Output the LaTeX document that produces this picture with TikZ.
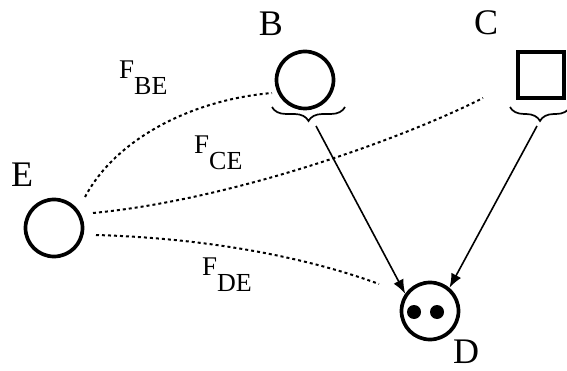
\documentclass[tikz,border=0pt]{standalone}
\usepackage{fontspec}
\setmainfont{Liberation Serif}
\usetikzlibrary{decorations.pathreplacing,arrows.meta}
\newcommand{\Flab}[1]{F\raisebox{-16pt}{\fontsize{26}{28}\selectfont #1}}
\begin{document}
\begin{tikzpicture}[x=1pt,y=-1pt,
  circ/.style={circle, draw, line width=3.7pt, minimum size=57pt, inner sep=0pt},
  sq/.style={rectangle, draw, line width=4.8pt, minimum size=46pt, inner sep=0pt},
  lab/.style={font=\fontsize{36}{40}\selectfont, inner sep=0pt},
  flab/.style={font=\fontsize{27}{30}\selectfont, inner sep=0pt, anchor=base west},
  blob/.style={circle, fill, minimum size=14pt, inner sep=0pt},
  link/.style={line width=2pt, dash pattern=on 3pt off 3pt},
  arr/.style={line width=1.6pt, -{Latex[length=14pt,width=11pt]}},
  brc/.style={decorate, decoration={brace, mirror, amplitude=14pt}, line width=1.7pt}]
\useasboundingbox (0,0) rectangle (567,371);
% nodes
\node[circ] (B) at (305,80) {};
\node[sq] (C) at (541,75) {};
\node[circ] (D) at (430,311) {};
\node[circ] (E) at (54,228) {};
\node[blob] (d1) at (414,312) {};
\node[blob] (d2) at (437,312) {};
% labels
\node[lab] (lB) at (271,24) {B};
\node[lab] (lC) at (486,23) {C};
\node[lab] (lD) at (466,352) {D};
\node[lab] (lE) at (22,175) {E};
\node[flab] (fBE) at (119,79) {\Flab{BE}};
\node[flab] (fCE) at (194,154) {\Flab{CE}};
\node[flab] (fDE) at (202,275) {\Flab{DE}};
% braces
\coordinate (b1) at (272,107);
\coordinate (b2) at (345,107);
\coordinate (c1) at (510,107);
\coordinate (c2) at (570,107);
\draw[brc] (b1) -- (b2);
\draw[brc] (c1) -- (c2);
\coordinate (bs) at (316,126);
\coordinate (cs) at (537,126);
% arrows
\draw[arr] (bs) -- (D.145);
\draw[arr] (cs) -- (D.50);
% dotted links
\coordinate (eB) at (85,197);
\coordinate (eC) at (93,213);
\coordinate (eD) at (96,235);
\coordinate (tB) at (272,93);
\coordinate (tC) at (483,98);
\coordinate (tD) at (379,284);
\draw[link] (eB) .. controls (115,140) and (190,100) .. (tB);
\draw[link] (eC) .. controls (230,200) and (400,140) .. (tC);
\draw[link] (eD) .. controls (200,238) and (300,255) .. (tD);
\end{tikzpicture}
\end{document}
